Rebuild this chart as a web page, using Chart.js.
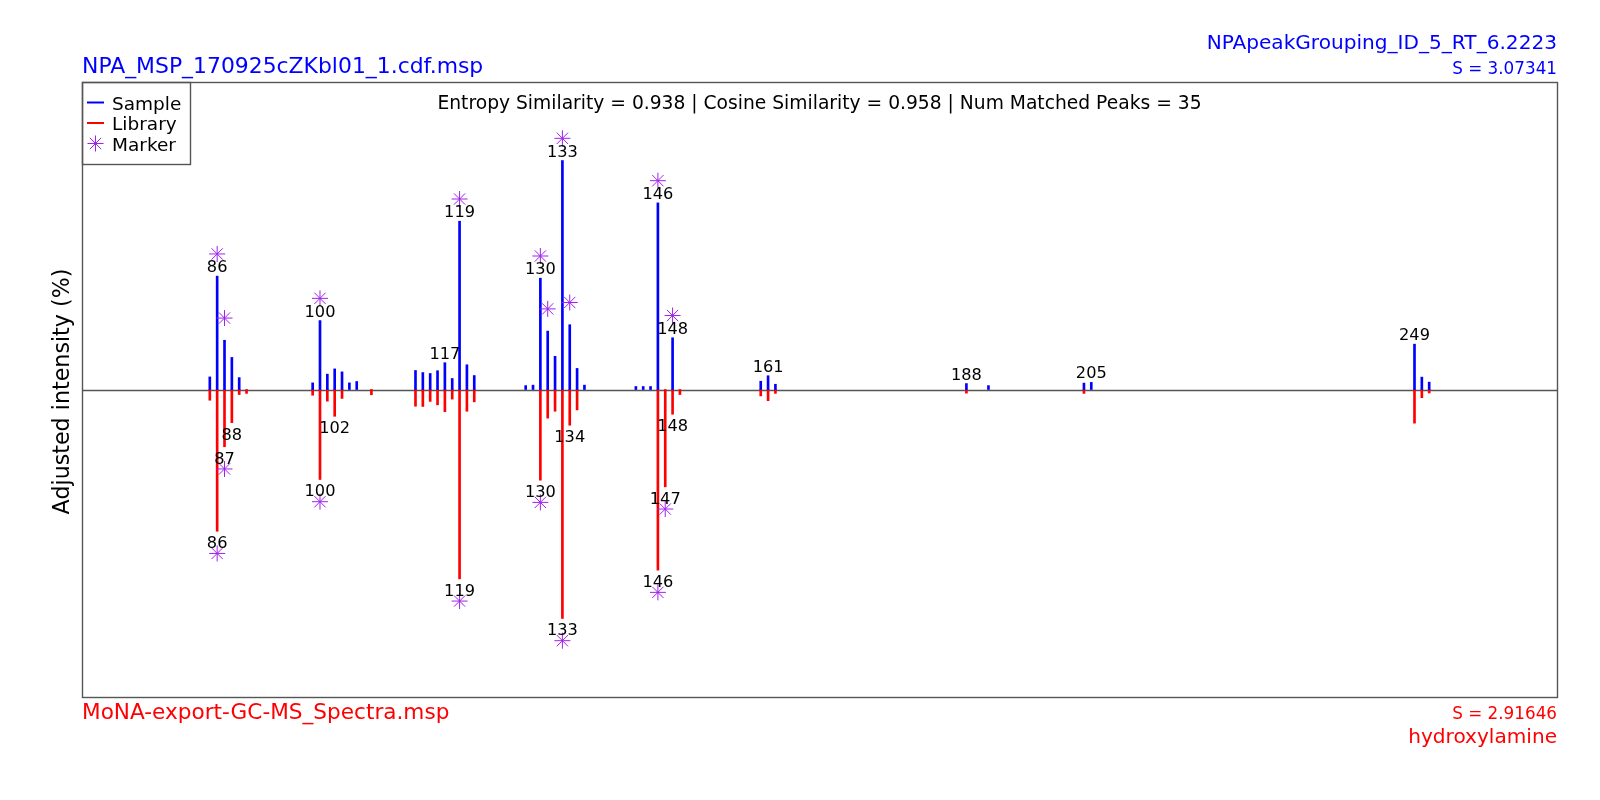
<!DOCTYPE html>
<html><head><meta charset="utf-8">
<script src="https://cdn.jsdelivr.net/npm/chart.js@4.4.0/dist/chart.umd.min.js"></script>
<style>html,body{margin:0;padding:0;background:#fff;} #wrap{width:1600px;height:800px;}</style>
</head><body>
<div id="wrap"><canvas id="c" width="1600" height="800"></canvas></div>
<script>
// ---- data ----
const sampleMz = [85,86,87,88,89, 99,100,101,102,103,104,105, 113,114,115,116,117,118,119,120,121, 128,129,130,131,132,133,134,135,136, 143,144,145,146,148, 160,161,162, 188,191, 204,205, 249,250,251];
const sampleIntensity = [5.5,49.5,21.5,14,5.2, 2.9,30.1,6.7,9,7.7,2.9,3.5, 8.3,7.4,7,8.2,11.7,4.8,73.5,10.8,6.1, 1.7,1.9,48.6,25.5,14.5,100,28.3,9.2,1.9, 1.3,1.3,1.3,81.5,22.6, 3.6,6.0,2.3, 2.6,1.7, 2.8,3.1, 19.8,5.4,3.2];
const libraryMz = [85,86,87,88,89,90, 99,100,101,102,103,107, 113,114,115,116,117,118,119,120,121, 130,131,132,133,134,135, 146,147,148,149, 160,161,162, 188, 204, 249,250,251];
const libraryIntensity = [4.7,61.9,25,14.5,2.2,1.7, 2.5,39.3,5.1,11.7,3.9,2.3, 7.3,7.4,5.2,6.7,9.7,4.2,82.7,9.5,5.4, 39.6,12.5,9.5,100,15.6,8.9, 78.9,42.5,10.8,2.2, 2.8,4.9,1.7, 1.6, 1.7, 14.7,3.6,1.5];
const sampleLabelMz = [86,100,117,119,130,133,146,148,161,188,205,249];
const sampleMarkerMz = [86,87,100,119,130,131,133,134,146,148];
const libraryLabelMz = [86,87,88,100,102,119,130,133,134,146,147,148];
const libraryMarkerMz = [86,87,100,119,130,133,146,147];
const sampleFile = "NPA_MSP_170925cZKbl01_1.cdf.msp";
const sampleName = "NPApeakGrouping_ID_5_RT_6.2223";
const sampleScore = "S = 3.07341";
const libraryFile = "MoNA-export-GC-MS_Spectra.msp";
const libraryScore = "S = 2.91646";
const libraryName = "hydroxylamine";
const similarityText = "Entropy Similarity = 0.938 | Cosine Similarity = 0.958 | Num Matched Peaks = 35";
const yAxisTitle = "Adjusted intensity (%)";
const legendLabels = ["Sample", "Library", "Marker"];
const mzRange = [67.6, 268.4];
const intensityRange = [-134.3, 134.3];
const MARKER_OFFSET = 9.7;

// ---- styles ----
const BLUE = '#0000FF', RED = '#FF0000', PURPLE = '#A020F0', FRAME = '#555555';
const FONT = '"DejaVu Sans", "Liberation Sans", sans-serif';

const sampleData = sampleMz.map((x, i) => ({x: x, y: sampleIntensity[i]}));
const libraryData = libraryMz.map((x, i) => ({x: x, y: -libraryIntensity[i]}));
const sampleMarkers = sampleMarkerMz.map(mz => ({x: mz, y: sampleIntensity[sampleMz.indexOf(mz)] + MARKER_OFFSET}));
const libraryMarkers = libraryMarkerMz.map(mz => ({x: mz, y: -(libraryIntensity[libraryMz.indexOf(mz)] + MARKER_OFFSET)}));

const decor = {
  id: 'decor',
  beforeDatasetsDraw(chart) {
    const ctx = chart.ctx, a = chart.chartArea, ys = chart.scales.y;
    const y0 = Math.round(ys.getPixelForValue(0)) + 0.5;
    ctx.save();
    ctx.strokeStyle = FRAME; ctx.lineWidth = 1.4;
    ctx.beginPath(); ctx.moveTo(a.left, y0); ctx.lineTo(a.right, y0); ctx.stroke();
    ctx.restore();
  },
  afterDatasetsDraw(chart) {
    const ctx = chart.ctx, a = chart.chartArea, xs = chart.scales.x, ys = chart.scales.y;
    ctx.save();
    // frame
    ctx.strokeStyle = FRAME; ctx.lineWidth = 1.4;
    ctx.strokeRect(Math.round(a.left) + 0.5, Math.round(a.top) + 0.5, Math.round(a.right - a.left), Math.round(a.bottom - a.top));
    // peak labels
    ctx.fillStyle = '#000'; ctx.font = '16.2px ' + FONT; ctx.textAlign = 'center'; ctx.textBaseline = 'alphabetic';
    sampleLabelMz.forEach(mz => {
      const v = sampleIntensity[sampleMz.indexOf(mz)];
      ctx.fillText(String(mz), xs.getPixelForValue(mz), ys.getPixelForValue(v) - 4);
    });
    libraryLabelMz.forEach(mz => {
      const v = libraryIntensity[libraryMz.indexOf(mz)];
      ctx.fillText(String(mz), xs.getPixelForValue(mz), ys.getPixelForValue(-v) + 17);
    });
    // similarity text
    ctx.font = '18.7px ' + FONT;
    ctx.fillText(similarityText, (a.left + a.right) / 2, a.top + 27);
    // titles
    ctx.font = '21.9px ' + FONT;
    ctx.fillStyle = BLUE; ctx.textAlign = 'left';
    ctx.fillText(sampleFile, a.left, a.top - 9);
    ctx.textAlign = 'right';
    ctx.font = '20.1px ' + FONT;
    ctx.fillText(sampleName, a.right, a.top - 33);
    ctx.font = '16.8px ' + FONT;
    ctx.fillText(sampleScore, a.right, a.top - 8);
    ctx.fillStyle = RED;
    ctx.fillText(libraryScore, a.right, a.bottom + 22);
    ctx.font = '20.1px ' + FONT;
    ctx.fillText(libraryName, a.right, a.bottom + 46);
    ctx.font = '21.6px ' + FONT;
    ctx.textAlign = 'left';
    ctx.fillText(libraryFile, a.left, a.bottom + 22);
    // y axis title
    ctx.fillStyle = '#000';
    ctx.save();
    ctx.font = '22.2px ' + FONT;
    ctx.translate(63, (a.top + a.bottom) / 2 + 2);
    ctx.rotate(-Math.PI / 2);
    ctx.textAlign = 'center'; ctx.textBaseline = 'middle';
    ctx.fillText(yAxisTitle, 0, 0);
    ctx.restore();
    // legend
    const lx = Math.round(a.left) + 0.5, ly = Math.round(a.top) + 0.5;
    ctx.strokeStyle = FRAME; ctx.lineWidth = 1.4;
    ctx.strokeRect(lx, ly, 108, 82);
    ctx.font = '18.5px ' + FONT; ctx.textAlign = 'left'; ctx.textBaseline = 'alphabetic'; ctx.fillStyle = '#000';
    const rows = [a.top + 20.5, a.top + 41, a.top + 61.5];
    ctx.lineWidth = 2;
    ctx.strokeStyle = BLUE; ctx.beginPath(); ctx.moveTo(a.left + 5, rows[0]); ctx.lineTo(a.left + 22, rows[0]); ctx.stroke();
    ctx.strokeStyle = RED; ctx.beginPath(); ctx.moveTo(a.left + 5, rows[1]); ctx.lineTo(a.left + 22, rows[1]); ctx.stroke();
    ctx.strokeStyle = PURPLE; ctx.lineWidth = 1;
    Chart.helpers.drawPoint(ctx, {pointStyle: 'star', radius: 8, rotation: 0, borderWidth: 1}, a.left + 13.5, rows[2]);
    legendLabels.forEach((t, i) => ctx.fillText(t, a.left + 30, rows[i] + 7));
    ctx.restore();
  }
};

new Chart(document.getElementById('c'), {
  type: 'bar',
  data: {
    datasets: [
      {type: 'bar', label: 'Sample', data: sampleData, backgroundColor: BLUE, barThickness: 2, grouped: false, borderWidth: 0, order: 2},
      {type: 'bar', label: 'Library', data: libraryData, backgroundColor: RED, barThickness: 2, grouped: false, borderWidth: 0, order: 2},
      {type: 'scatter', label: 'Marker', data: sampleMarkers.concat(libraryMarkers), pointStyle: 'star', pointRadius: 8,
       borderColor: PURPLE, backgroundColor: PURPLE, pointBorderWidth: 1, showLine: false, order: 1}
    ]
  },
  options: {
    responsive: false, animation: false, devicePixelRatio: 1,
    layout: {padding: {left: 82, top: 82, right: 43, bottom: 103}},
    plugins: {legend: {display: false}, tooltip: {enabled: false}, title: {display: false}},
    scales: {
      x: {type: 'linear', min: mzRange[0], max: mzRange[1], offset: false, display: false},
      y: {type: 'linear', min: intensityRange[0], max: intensityRange[1], display: false}
    }
  },
  plugins: [decor]
});
</script>
</body></html>
